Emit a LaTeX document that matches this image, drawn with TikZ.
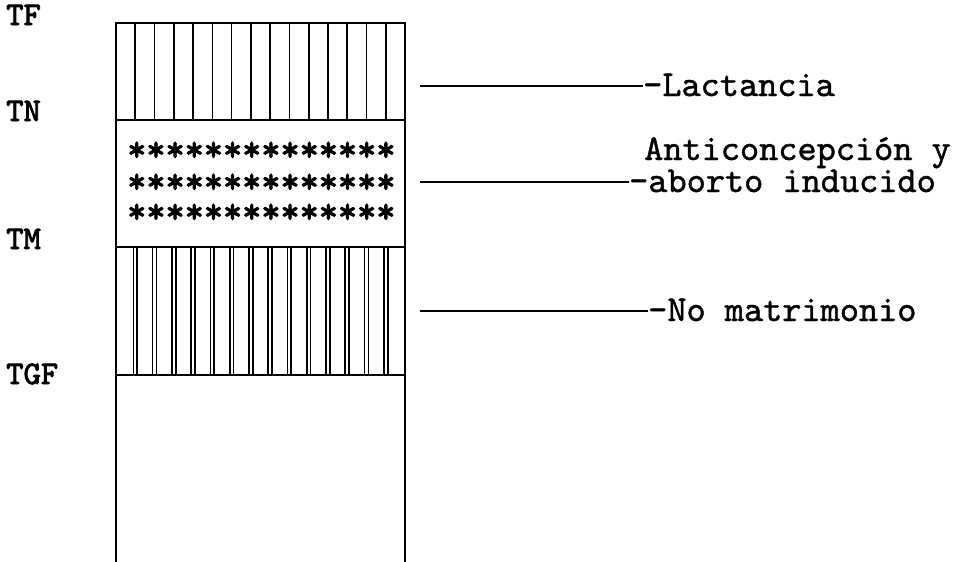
\documentclass[tikz,border=0pt]{standalone}
\usepackage{fontspec}
\newfontfamily\courtxt{lmmono10-regular.otf}[FakeBold=1.2]
\newfontfamily\courlbl{lmmono10-regular.otf}[FakeBold=2.5]
\begin{document}
\begin{tikzpicture}[x=1pt,y=-1pt,
  lbl/.style={font=\courlbl\fontsize{33}{36}\selectfont, inner sep=0pt, anchor=base west},
  txt/.style={font=\courtxt\fontsize{36.5}{38}\selectfont, inner sep=0pt, anchor=base west},
  stars/.style={font=\courlbl\fontsize{36.5}{38}\selectfont, inner sep=0pt, anchor=base west, text height=20pt, text depth=0pt},
  boxline/.style={line width=1.9pt, black},
  hatch/.style={line width=1.7pt, black},
  leader/.style={line width=1.6pt, black}]
\useasboundingbox (0,0) rectangle (959,562);
% box frame
\draw[boxline] (116,562) -- (116,23) -- (405,23) -- (405,562);
\draw[boxline] (116,120) -- (405,120);
\draw[boxline] (116,247) -- (405,247);
\draw[boxline] (116,375) -- (405,375);
% Lactancia hatching
\foreach \i in {1,...,14}{
  \draw[hatch] ({116+\i*19.27},23) -- ({116+\i*19.27},120);
}
% No matrimonio double hatching
\foreach \i in {1,...,14}{
  \draw[hatch] ({116+\i*19.27-1.9},247) -- ({116+\i*19.27-1.9},375);
  \draw[hatch] ({116+\i*19.27+1.9},247) -- ({116+\i*19.27+1.9},375);
}
% asterisks
\node[stars] (s1) at (127,161) {**************};
\node[stars] (s2) at (127,193) {**************};
\node[stars] (s3) at (127,223) {**************};
% left labels
\node[lbl] (tf) at (6,25) {TF};
\node[lbl] (tn) at (6,121) {TN};
\node[lbl] (tm) at (6,249) {TM};
\node[lbl] (tgf) at (6,384) {TGF};
% right labels
\node[txt] (lact) at (643,96) {-Lactancia};
\node[txt] (anti) at (644,160) {Anticoncepción y};
\node[txt] (abor) at (629,192) {-aborto inducido};
\node[txt] (nomat) at (648,321) {-No matrimonio};
% leaders
\coordinate (c1) at (420,86);
\coordinate (c2) at (420,182);
\coordinate (c3) at (420,311);
\draw[leader] (c1) -- (c1 -| lact.west);
\draw[leader] (c2) -- (c2 -| abor.west);
\draw[leader] (c3) -- (c3 -| nomat.west);
\end{tikzpicture}
\end{document}
